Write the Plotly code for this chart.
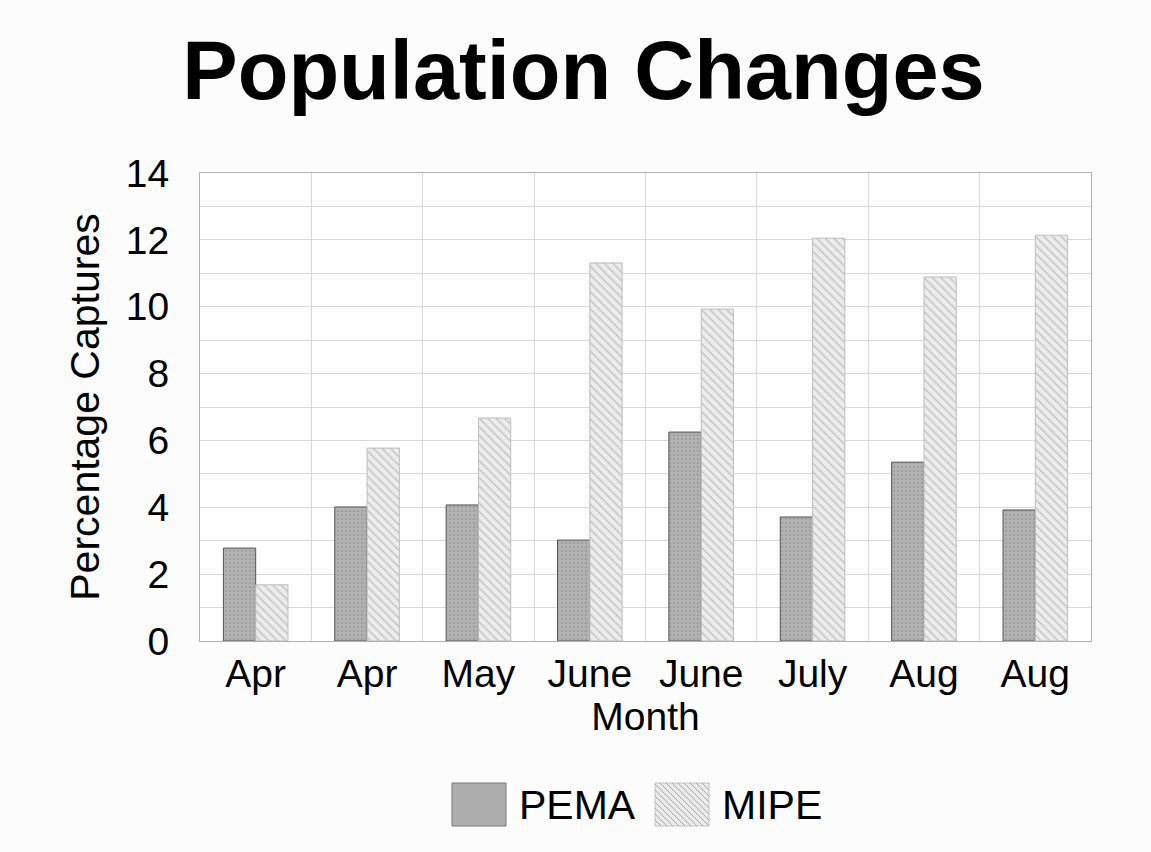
import plotly.graph_objects as go

categories = ["Apr", "Apr", "May", "June", "June", "July", "Aug", "Aug"]
pema = [2.78, 4.01, 4.07, 3.02, 6.25, 3.71, 5.35, 3.92]
mipe = [1.68, 5.77, 6.67, 11.31, 9.93, 12.05, 10.89, 12.14]
y_ticks = [0, 2, 4, 6, 8, 10, 12, 14]
series_names = ["PEMA", "MIPE"]

FONT = "Arial, Liberation Sans, sans-serif"
W, H = 1151, 852
ML, MR, MT, MB = 200, 60, 173, 211
PW, PH = W - ML - MR, H - MT - MB
xpos = list(range(len(categories)))

PEMA_COL = "#aeaeae"
MIPE_COL = "#ebebeb"

fig = go.Figure()
fig.add_trace(go.Bar(
    x=xpos, y=pema, name=series_names[0], showlegend=False,
    marker=dict(color=PEMA_COL, line=dict(color="#555555", width=1),
                pattern=dict(shape=".", fgcolor="#8e8e8e", bgcolor="#b2b2b2", size=4, solidity=0.3)),
))
fig.add_trace(go.Bar(
    x=xpos, y=mipe, name=series_names[1], showlegend=False,
    marker=dict(color=MIPE_COL, line=dict(color="#bdbdbd", width=1),
                pattern=dict(shape="\\", fgcolor="#9a9a9a", bgcolor="#ececec", size=6, solidity=0.25)),
))


# ---- legend drawn as decoration (large swatches like the original) ----
def px2paper(px, py):
    return (px - ML) / PW, (H - MB - py) / PH


def hatch_path(x0, y0, x1, y1, step=6):
    # "\" diagonal lines inside pixel rect, converted to paper coords
    segs = []
    w, h = x1 - x0, y1 - y0
    k = -h
    while k < w:
        t0 = max(0, -k)
        t1 = min(h, w - k)
        if t1 > t0:
            ax, ay = px2paper(x0 + k + t0, y0 + t0)
            bx, by = px2paper(x0 + k + t1, y0 + t1)
            segs.append(f"M{ax:.5f},{ay:.5f} L{bx:.5f},{by:.5f}")
        k += step
    return " ".join(segs)


shapes = []
sw = [(452, 783, 506, 826), (655, 783, 709, 826)]
for i, (x0, y0, x1, y1) in enumerate(sw):
    a = px2paper(x0, y0)
    b = px2paper(x1, y1)
    shapes.append(dict(type="rect", xref="paper", yref="paper", x0=a[0], y0=b[1], x1=b[0], y1=a[1],
                       fillcolor=PEMA_COL if i == 0 else MIPE_COL,
                       line=dict(color="#777777" if i == 0 else "#c4c4c4", width=1), layer="above"))
    if i == 1:
        shapes.append(dict(type="path", xref="paper", yref="paper", path=hatch_path(x0, y0, x1, y1),
                           line=dict(color="#a8a8a8", width=1), layer="above"))

annotations = []
for i, (x0, y0, x1, y1) in enumerate(sw):
    ax, ay = px2paper(x1 + 11, (y0 + y1) / 2)
    annotations.append(dict(text=series_names[i], xref="paper", yref="paper", x=ax, y=ay,
                            xanchor="left", yanchor="middle", showarrow=False,
                            font=dict(size=41, family=FONT, color="black")))

fig.update_layout(
    width=W, height=H,
    margin=dict(l=ML, r=MR, t=MT, b=MB),
    paper_bgcolor="#fcfcfc", plot_bgcolor="white",
    barmode="group", bargap=0.42, bargroupgap=0,
    font=dict(family=FONT, color="black"),
    title=dict(text="<b>Population Changes</b>", x=0.507, xanchor="center",
               y=0.918, yanchor="middle", font=dict(size=83, family=FONT)),
    showlegend=False,
    shapes=shapes, annotations=annotations,
)
fig.update_xaxes(
    range=[-0.5, 7.5], tickmode="array", tickvals=xpos, ticktext=categories,
    tickfont=dict(size=39), showgrid=False, zeroline=False,
    showline=True, linecolor="#b0b0b0", mirror=True, ticks="", ticklabelstandoff=-2,
    minor=dict(tickvals=[i + 0.5 for i in range(-1, 8)], showgrid=True, gridcolor="#d8d8d8"),
    title=dict(text="Month", font=dict(size=39), standoff=0),
)
fig.update_yaxes(
    range=[0, 14], tickmode="array", tickvals=y_ticks, tickfont=dict(size=39),
    showgrid=True, gridcolor="#d8d8d8", zeroline=False,
    showline=True, linecolor="#b0b0b0", mirror=True, ticks="", ticklabelstandoff=22,
    minor=dict(dtick=1, showgrid=True, gridcolor="#d8d8d8"),
    title=dict(text="Percentage Captures", font=dict(size=41), standoff=13),
)

fig.write_html("out.html")
